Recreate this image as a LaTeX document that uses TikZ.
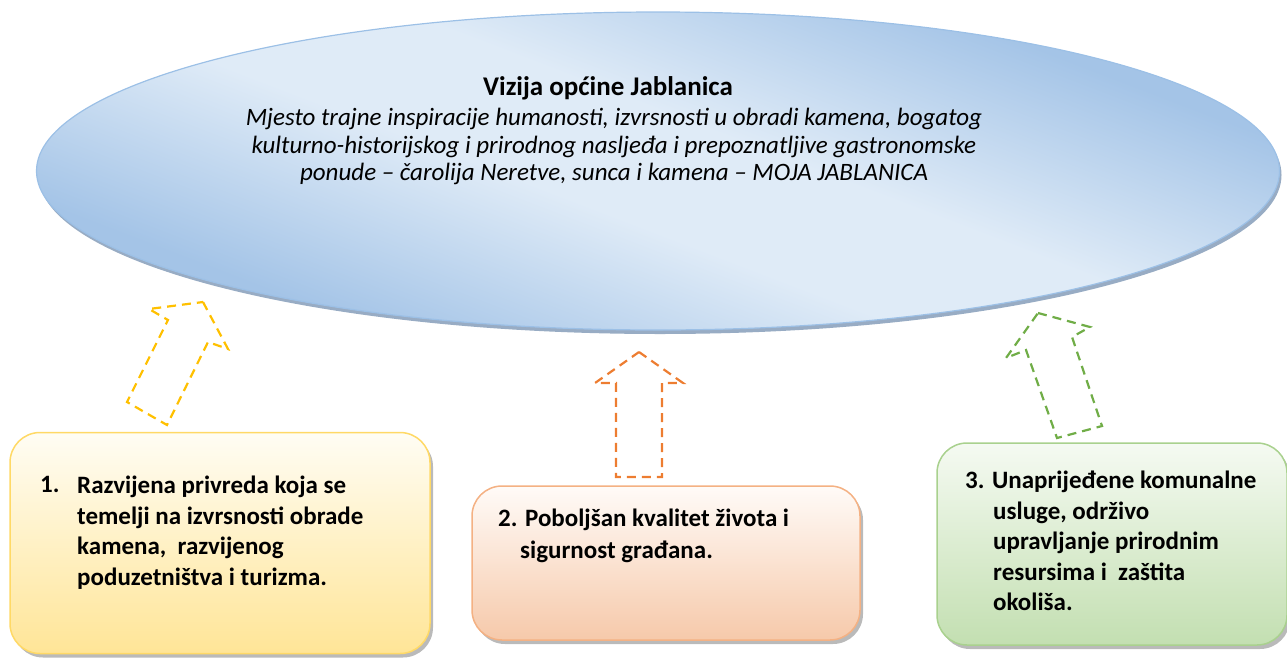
\documentclass[tikz,border=0pt]{standalone}
\usepackage{fontspec}
\setmainfont{Carlito}
\usetikzlibrary{shapes.geometric,shadows}
\definecolor{elldark}{HTML}{A4C4E7}
\definecolor{elllight}{HTML}{DFEBF7}
\definecolor{ellline}{HTML}{9CC0E6}
\definecolor{ellshadow}{HTML}{7E97B5}
\definecolor{yline}{HTML}{FFD966}
\definecolor{ytop}{HTML}{FFFDF4}
\definecolor{ybot}{HTML}{FFE597}
\definecolor{oline}{HTML}{F4B183}
\definecolor{otop}{HTML}{FFFBF8}
\definecolor{obot}{HTML}{F6C9AA}
\definecolor{gline}{HTML}{A9D18E}
\definecolor{gtop}{HTML}{F5FAF2}
\definecolor{gbot}{HTML}{C3DFB1}
\definecolor{yarrow}{HTML}{FFC000}
\definecolor{oarrow}{HTML}{ED7D31}
\definecolor{garrow}{HTML}{70AD47}
\pgfdeclareverticalshading{ellband}{100bp}{color(0bp)=(elldark); color(28bp)=(elldark); color(45bp)=(elllight); color(55bp)=(elllight); color(72bp)=(elldark); color(100bp)=(elldark)}
\tikzset{
  goalbox/.style={rectangle, rounded corners=30pt, line width=1.5pt, inner sep=0pt,
    drop shadow={shadow xshift=3pt, shadow yshift=-4pt, opacity=0.45, fill=black!60}},
  goaltext/.style={font=\bfseries\fontsize{25}{30.5}\selectfont, align=left, anchor=north west, inner sep=0pt},
  visionline/.style={font=\itshape\fontsize{25}{28}\selectfont, anchor=base, inner sep=0pt},
  blockarrow/.style={line width=2.2pt, dash pattern=on 9pt off 6pt, line join=miter},
}
\begin{document}
\begin{tikzpicture}[x=1pt,y=-1pt]
\useasboundingbox (0,0) rectangle (1287,659);
% vision ellipse
\node (shadowell) [ellipse, minimum width=1243pt, minimum height=318pt, inner sep=0pt,
  fill=ellshadow, opacity=0.8] at (660,175) {};
\node (vision) [ellipse, minimum width=1243pt, minimum height=318pt, inner sep=0pt,
  draw=ellline, line width=1.2pt, shading=ellband, shading angle=-21] at (658,171) {};
\node (vtitle) [anchor=base, inner sep=0pt] at (608,95) {\bfseries\fontsize{27}{30}\selectfont Vizija općine Jablanica};
\node (vl1) [visionline] at (614,125) {Mjesto trajne inspiracije humanosti, izvrsnosti u obradi kamena, bogatog};
\node (vl2) [visionline] at (614,153) {kulturno-historijskog i prirodnog nasljeđa i prepoznatljive gastronomske};
\node (vl3) [visionline] at (614,180) {ponude – čarolija Neretve, sunca i kamena – MOJA JABLANICA};
% goal boxes
\node (b1) [goalbox, draw=yline, top color=ytop, bottom color=ybot,
  minimum width=420pt, minimum height=221pt] at (220,543) {};
\node (b2) [goalbox, draw=oline, top color=otop, bottom color=obot,
  minimum width=388pt, minimum height=154pt] at (666,563) {};
\node (b3) [goalbox, draw=gline, top color=gtop, bottom color=gbot,
  minimum width=350pt, minimum height=202pt] at (1112,544) {};
\node (t1num) [goaltext] at (40,476) {1.};
\node (t1) [goaltext] at (77,476) {Razvijena privreda koja se\\temelji na izvrsnosti obrade\\kamena,\ \ razvijenog\\poduzetništva i turizma.};
\node (t2) [goaltext, font=\bfseries\fontsize{25}{32}\selectfont] at (498,509) {2. Poboljšan kvalitet života i\\\hspace*{22pt}sigurnost građana.};
\node (t3) [goaltext] at (965,471) {3. Unaprijeđene komunalne\\\hspace*{28pt}usluge, održivo\\\hspace*{28pt}upravljanje prirodnim\\\hspace*{28pt}resursima i\ \ zaštita\\\hspace*{28pt}okoliša.};
% dashed block arrows
\draw[blockarrow, draw=yarrow] (203,302) coordinate (ya) -- (228,349) -- (208,342) -- (167,425) -- (127,402) -- (168,320) -- (149,309) -- cycle;
\draw[blockarrow, draw=oarrow] (639,352) coordinate (oa) -- (683,383) -- (662,383) -- (662,477) -- (616,477) -- (616,383) -- (595,383) -- cycle;
\draw[blockarrow, draw=garrow] (1038,313) coordinate (ga) -- (1090,327) -- (1072,337) -- (1102,426) -- (1057,438) -- (1026,350) -- (1006,358) -- cycle;
\end{tikzpicture}
\end{document}
